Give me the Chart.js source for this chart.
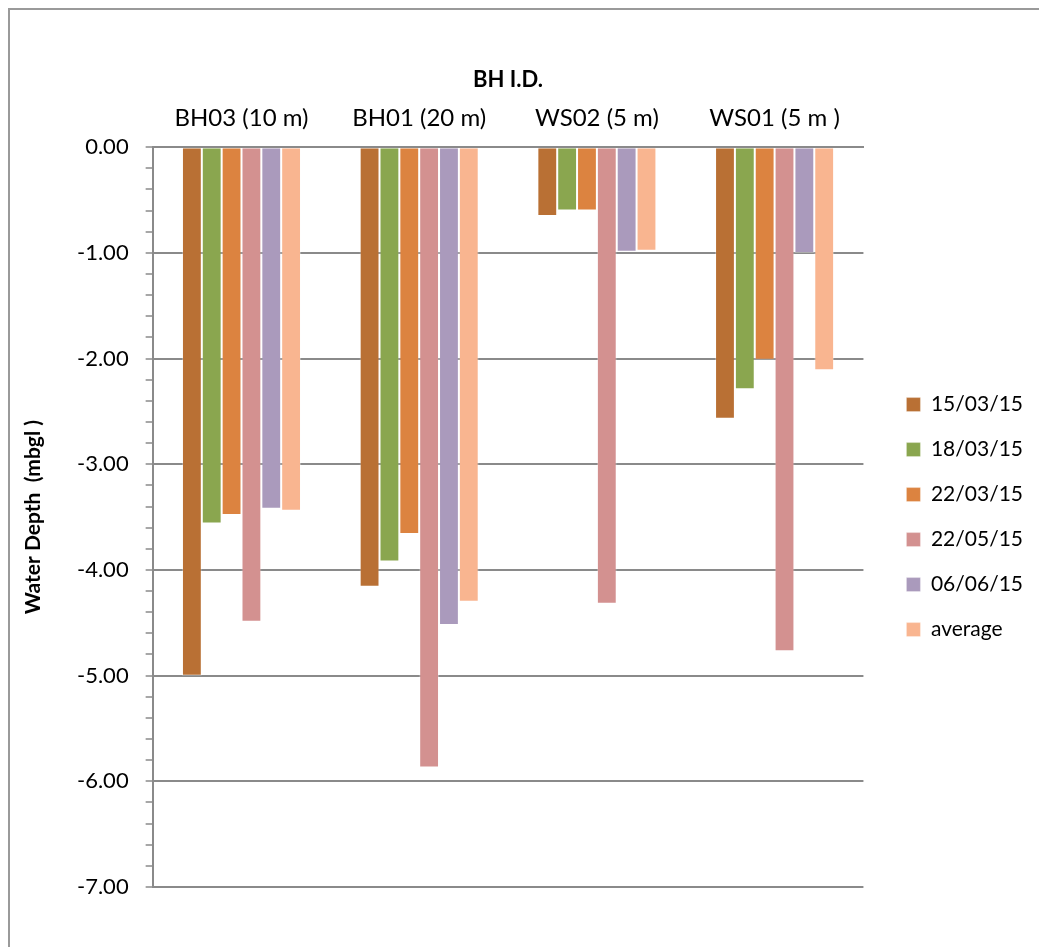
<!DOCTYPE html>
<html>
<head>
<meta charset="utf-8">
<script src="https://cdn.jsdelivr.net/npm/chart.js@4.4.1/dist/chart.umd.min.js"></script>
<style>
  html, body { margin: 0; padding: 0; background: #fff; }
  #wrap { position: relative; width: 1039px; height: 947px; overflow: hidden; }
  #frame { position: absolute; left: 8px; top: 8px; width: 1100px; height: 1000px;
           border-left: 2px solid #9a9a9a; border-top: 2px solid #9a9a9a; }
  #chart { position: absolute; left: 0; top: 0; }
</style>
</head>
<body>
<div id="wrap">
  <div id="frame"></div>
  <canvas id="chart" width="1039" height="947"></canvas>
</div>
<script>
console.log("Script loaded")

const boreholes = ['BH03 (10 m)', 'BH01 (20 m)', 'WS02 (5 m)', 'WS01 (5 m )']
const dates = ['15/03/15', '18/03/15', '22/03/15', '22/05/15', '06/06/15', 'average']

const depth150315 = [-5.00, -4.16, -0.65, -2.57]
const depth180315 = [-3.56, -3.92, -0.60, -2.29]
const depth220315 = [-3.48, -3.66, -0.60, -2.01]
const depth220515 = [-4.49, -5.87, -4.32, -4.77]
const depth060615 = [-3.42, -4.52, -0.99, -1.00]
const depthAverage = [-3.44, -4.30, -0.98, -2.11]

const yTicks = [0, -1, -2, -3, -4, -5, -6, -7]

const colours = ['#B97034', '#8AA64F', '#DC8340', '#D39190', '#AA9ABC', '#F9B590']
const series = [depth150315, depth180315, depth220315, depth220515, depth060615, depthAverage]

const isWhole = v => Math.abs(v - Math.round(v)) < 1e-6

const ctx = document.getElementById('chart').getContext('2d')
new Chart(ctx, {
  type: 'bar',
  data: {
    labels: boreholes,
    datasets: series.map((vals, i) => ({
      label: dates[i],
      data: vals,
      backgroundColor: colours[i],
      borderColor: 'rgba(255,255,255,0.3)',
      borderWidth: 1,
      categoryPercentage: 0.67,
      barPercentage: 1.0
    }))
  },
  options: {
    responsive: false,
    animation: false,
    layout: { padding: { top: 0, bottom: 60, left: 0, right: 6 } },
    plugins: {
      tooltip: { enabled: false },
      legend: {
        position: 'right',
        fullSize: false,
        labels: {
          boxWidth: 14,
          boxHeight: 14,
          padding: 24,
          color: '#000',
          font: { family: 'Lato', size: 21 }
        }
      }
    },
    scales: {
      x: {
        position: 'top',
        grid: { display: false, drawTicks: false },
        border: { display: true, color: '#8a8a8a', width: 2 },
        ticks: { color: '#000', padding: 14.8, font: { family: 'Lato', size: 24 } },
        title: {
          display: true,
          text: 'BH I.D.',
          color: '#000',
          padding: { top: 66.8, bottom: -4.4 },
          font: { family: 'Lato', size: 22, weight: 'bold' }
        }
      },
      y: {
        min: -7,
        max: 0,
        ticks: {
          stepSize: 0.2,
          autoSkip: false,
          padding: 17,
          color: '#000',
          font: { family: 'Lato', size: 22 },
          callback: v => (isWhole(v) && yTicks.includes(Math.round(v))) ? Math.round(v).toFixed(2) : ''
        },
        grid: {
          lineWidth: 2,
          tickLength: 7,
          tickWidth: 1.5,
          tickColor: '#8a8a8a',
          color: c => isWhole(c.tick.value) ? '#8a8a8a' : 'rgba(0,0,0,0)'
        },
        border: { display: true, color: '#8a8a8a', width: 2 },
        title: {
          display: true,
          text: 'Water Depth  (mbgl )',
          color: '#000',
          padding: { top: 20.4, bottom: 14.4 },
          font: { family: 'Lato', size: 21, weight: 'bold' }
        }
      },
      spacer: {
        type: 'linear',
        position: 'right',
        display: true,
        ticks: { display: false },
        grid: { display: false, drawTicks: false },
        border: { display: false },
        afterFit: s => { s.width = 19 }
      }
    }
  }
})
</script>
</body>
</html>
